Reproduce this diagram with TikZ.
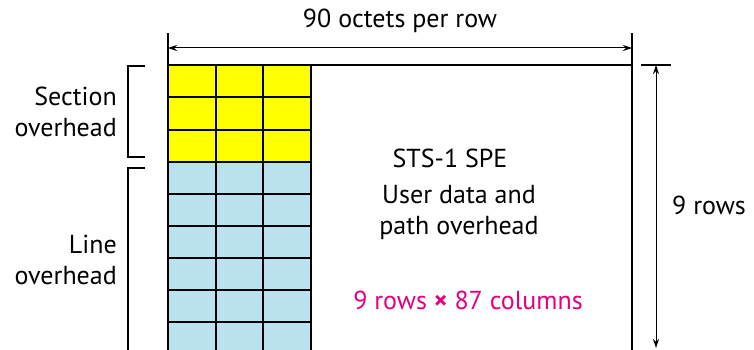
\documentclass[tikz,border=0pt]{standalone}
\usepackage{fontspec}
\setmainfont{PT Sans}
\usetikzlibrary{arrows.meta}
\definecolor{ovyellow}{RGB}{255,255,0}
\definecolor{ovblue}{RGB}{185,226,238}
\definecolor{ovpink}{RGB}{228,0,124}
\tikzset{
  lbl/.style={font=\fontsize{26}{31}\selectfont, inner sep=0pt, align=center},
  rlbl/.style={lbl, align=right, anchor=east},
  gridline/.style={line width=1.8pt},
  frame/.style={line width=1.3pt},
  dim/.style={line width=1pt, {Stealth[length=9pt,width=6pt]}-{Stealth[length=9pt,width=6pt]}},
}
\begin{document}
\begin{tikzpicture}[x=1pt,y=-1pt]
\useasboundingbox (0,0) rectangle (754,350);
\begin{scope}
\clip (0,0) rectangle (754,350);
% cells
\fill[ovyellow] (168,65) rectangle (311,162);
\fill[ovblue] (168,162) rectangle (311,354);
\foreach \y in {65,97.3,129.7,162,194,226,258,290,322,354}
  \draw[gridline] (168,\y) -- (311,\y);
\foreach \x in {168,215.7,263.3,311}
  \draw[gridline] (\x,65) -- (\x,354);
% frame
\coordinate (tl) at (168,33);
\coordinate (tr) at (632,33);
\draw[frame] (311,65) -- (632,65);
\draw[frame] (tl) -- (168,66);
\draw[frame] (tr) -- (632,354);
% top dimension
\coordinate (al) at (168,48);
\coordinate (ar) at (632,48);
\draw[dim] (al) -- (ar);
\node[lbl] (octets) at (400,21) {90 octets per row};
% right dimension
\coordinate (rt1) at (641,65);
\coordinate (rt2) at (671,65);
\draw[frame] (rt1) -- (rt2);
\coordinate (rtop) at (656,65);
\coordinate (rbot) at (656,348);
\draw[dim] (rtop) -- (rbot);
\node[lbl] (rows) at (709,205) {9 rows};
% brackets
\draw[frame] (145,66) -- (128,66) -- (128,157) -- (145,157);
\draw[frame] (145,168) -- (128,168) -- (128,354);
\node[rlbl] (sec) at (117,112) {Section\\overhead};
\node[rlbl] (line) at (117,260) {Line\\overhead};
\end{scope}
% center texts
\node[lbl] (spe) at (450,158) {STS-1 SPE};
\node[lbl] (user) at (459,212) {User data and\\path overhead};
\node[lbl, text=ovpink] (cols) at (468,300) {9 rows \textbf{×} 87 columns};
\end{tikzpicture}
\end{document}
